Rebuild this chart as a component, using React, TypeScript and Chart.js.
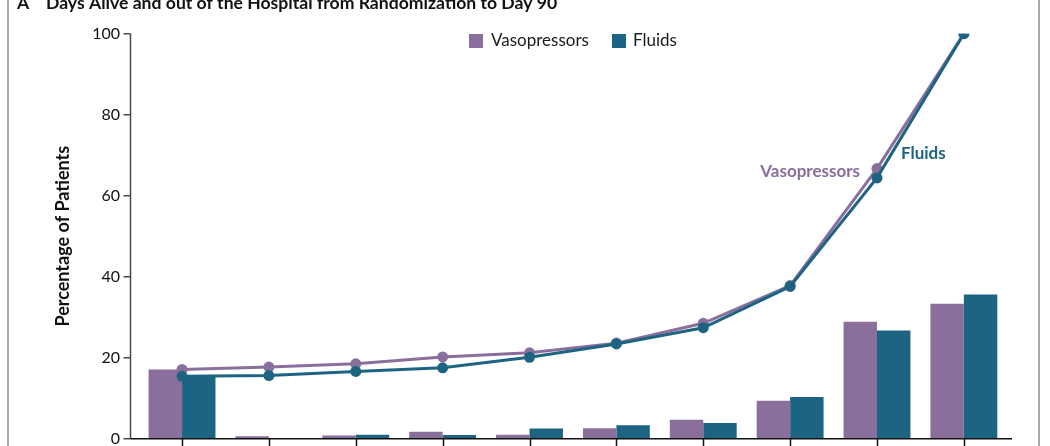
import React, { useEffect, useRef } from 'react';
import { Chart, registerables } from 'chart.js';

Chart.register(...registerables);

const FONT = 'Lato, "Open Sans", sans-serif';
const PURPLE = '#8a6e9c';
const TEAL = '#1d6482';

// categories of days alive and out of hospital (axis labels are cut off in the picture)
const categories = ['0', '1–9', '10–19', '20–29', '30–39', '40–49', '50–59', '60–69', '70–79', '80–90'];
// percentage of patients in each category (bars)
const vasoBars = [17.1, 0.6, 0.8, 1.7, 1.0, 2.6, 4.7, 9.4, 28.9, 33.3];
const fluidBars = [15.4, 0.2, 1.0, 0.9, 2.5, 3.3, 3.9, 10.3, 26.7, 35.6];
// cumulative percentage (lines)
const vasoLine = [17.1, 17.7, 18.5, 20.2, 21.2, 23.6, 28.5, 37.8, 66.7, 100];
const fluidLine = [15.4, 15.6, 16.6, 17.5, 20.1, 23.4, 27.4, 37.6, 64.4, 100];
const yTicks = [0, 20, 40, 60, 80, 100];

const decorations = {
  id: 'decorations',
  afterDraw(chart: any) {
    const { ctx, scales } = chart;
    const x = scales.x;
    const y = scales.y;
    const y0 = y.getPixelForValue(0);
    const axisX = 130.5;
    ctx.save();

    // panel frame
    ctx.strokeStyle = '#8c8c8c';
    ctx.lineWidth = 1.5;
    ctx.beginPath();
    ctx.moveTo(8, 0); ctx.lineTo(8, 446);
    ctx.moveTo(1039, 0); ctx.lineTo(1039, 446);
    ctx.stroke();

    // y axis
    ctx.strokeStyle = '#4a4a4a';
    ctx.lineWidth = 1.5;
    ctx.beginPath();
    ctx.moveTo(axisX, y.getPixelForValue(100));
    ctx.lineTo(axisX, y0);
    yTicks.forEach((v) => {
      const py = y.getPixelForValue(v);
      ctx.moveTo(axisX - 7, py);
      ctx.lineTo(axisX, py);
    });
    ctx.stroke();

    // x axis
    ctx.strokeStyle = '#111';
    ctx.beginPath();
    ctx.moveTo(axisX, y0);
    ctx.lineTo(1012, y0);
    categories.forEach((_, i) => {
      const px = Math.round(x.getPixelForValue(i)) + 0.5;
      ctx.moveTo(px, y0);
      ctx.lineTo(px, y0 + 9);
    });
    ctx.stroke();

    // panel title (cut off at the top)
    ctx.fillStyle = '#111';
    ctx.font = `bold 17.6px ${FONT}`;
    ctx.textAlign = 'left';
    ctx.textBaseline = 'alphabetic';
    ctx.fillText('A', 17, 9);
    ctx.fillText('Days Alive and out of the Hospital from Randomization to Day 90', 46, 9);

    // legend
    ctx.font = `17px ${FONT}`;
    ctx.textBaseline = 'middle';
    ctx.fillStyle = PURPLE;
    ctx.fillRect(469, 34, 14, 14);
    ctx.fillStyle = '#1a1a1a';
    ctx.fillText('Vasopressors', 491, 41);
    ctx.fillStyle = TEAL;
    ctx.fillRect(612, 34, 14, 14);
    ctx.fillStyle = '#1a1a1a';
    ctx.fillText('Fluids', 633, 41);

    // line labels
    const vp = chart.getDatasetMeta(1).data[8];
    const fp = chart.getDatasetMeta(0).data[8];
    ctx.font = `bold 17px ${FONT}`;
    ctx.fillStyle = PURPLE;
    ctx.textAlign = 'right';
    ctx.fillText('Vasopressors', vp.x - 17, vp.y + 3);
    ctx.fillStyle = TEAL;
    ctx.textAlign = 'left';
    ctx.fillText('Fluids', fp.x + 24, fp.y - 24);
    ctx.restore();
  },
};

const DaysAliveChart = () => {
  const chartRef = useRef<HTMLCanvasElement>(null);

  useEffect(() => {
    const chart = new Chart(chartRef.current as HTMLCanvasElement, {
      type: 'bar',
      data: {
        labels: categories,
        datasets: [
          {
            type: 'line',
            label: 'Fluids cumulative',
            data: fluidLine,
            borderColor: TEAL,
            backgroundColor: TEAL,
            borderWidth: 3,
            pointRadius: 5.5,
            pointBorderWidth: 0,
            pointBackgroundColor: TEAL,
            tension: 0,
            order: 0,
          },
          {
            type: 'line',
            label: 'Vasopressors cumulative',
            data: vasoLine,
            borderColor: PURPLE,
            backgroundColor: PURPLE,
            borderWidth: 3,
            pointRadius: 5.5,
            pointBorderWidth: 0,
            pointBackgroundColor: PURPLE,
            tension: 0,
            order: 1,
          },
          {
            label: 'Vasopressors',
            data: vasoBars,
            backgroundColor: PURPLE,
            borderWidth: 0,
            categoryPercentage: 0.77,
            barPercentage: 1,
            order: 2,
          },
          {
            label: 'Fluids',
            data: fluidBars,
            backgroundColor: TEAL,
            borderWidth: 0,
            categoryPercentage: 0.77,
            barPercentage: 1,
            order: 3,
          },
        ],
      } as any,
      options: {
        animation: false,
        responsive: true,
        maintainAspectRatio: false,
        layout: { padding: { top: 33.7, bottom: 7.3, left: 0, right: 42.7 } },
        scales: {
          x: {
            offset: true,
            ticks: { display: false },
            grid: { display: false },
            border: { display: false },
            afterFit: (s: any) => { s.height = 0; },
          },
          y: {
            min: 0,
            max: 100,
            ticks: {
              stepSize: 20,
              color: '#111',
              padding: 6.6,
              font: { family: FONT, size: 16 },
            },
            grid: { drawOnChartArea: false, color: 'transparent', tickLength: 12 },
            border: { display: false },
            title: {
              display: true,
              text: 'Percentage of Patients',
              color: '#111',
              font: { family: FONT, size: 18, weight: 'bold' },
              padding: { top: 52.2, bottom: 0 },
            },
            afterFit: (s: any) => {
              s.width = 138.6;
              s.paddingTop = 0;
              s.paddingBottom = 0;
            },
          },
        },
        plugins: {
          legend: { display: false },
          tooltip: { enabled: false },
        },
      } as any,
      plugins: [decorations],
    });

    return () => chart.destroy();
  }, []);

  return (
    <div style={{ position: 'absolute', left: 0, top: 0, width: 1050, height: 446, background: '#fff' }}>
      <canvas ref={chartRef} />
    </div>
  );
};

export default function App() {
  return <DaysAliveChart />;
}
